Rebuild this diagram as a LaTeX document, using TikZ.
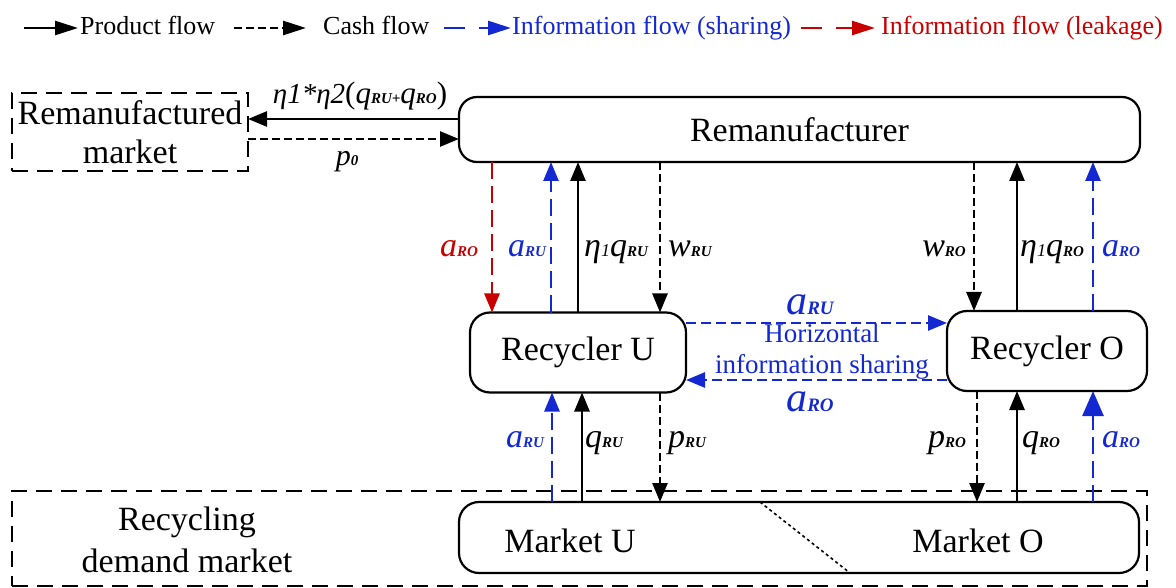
\documentclass[tikz,border=0pt]{standalone}
\usepackage{fontspec}
\setmainfont{Liberation Serif}
\usetikzlibrary{arrows.meta}
\definecolor{infoblue}{RGB}{20,40,210}
\definecolor{infored}{RGB}{200,0,0}
\newcommand{\sbx}[1]{{\fontsize{15}{15}\selectfont\bfseries\itshape #1}}
\newcommand{\sbxl}[1]{{\fontsize{19}{19}\selectfont\bfseries\itshape #1}}
\newcommand{\mv}[1]{{\fontsize{34}{34}\selectfont\itshape #1}}
\newcommand{\mvl}[1]{{\fontsize{42}{42}\selectfont\itshape #1}}
\newcommand{\one}{{\fontsize{18}{18}\selectfont\itshape 1}}
\begin{document}
\begin{tikzpicture}[x=1pt,y=-1pt,
  big/.style={font=\fontsize{34}{40}\selectfont},
  box/.style={draw, line width=2.2pt, rounded corners=18pt, inner sep=0pt, outer sep=0pt, big},
  dbox/.style={draw, line width=2.2pt, dash pattern=on 16pt off 9pt, inner sep=0pt, outer sep=0pt, align=center, big},
  prod/.style={line width=2.6pt, -{Triangle[length=19pt,width=15pt]}},
  cash/.style={prod, dash pattern=on 8pt off 4pt},
  share/.style={prod, infoblue, dash pattern=on 17pt off 7pt},
  hshare/.style={prod, infoblue, dash pattern=on 10pt off 5pt},
  leak/.style={prod, infored, dash pattern=on 17pt off 7pt},
  lbl/.style={inner sep=0pt, outer sep=0pt, anchor=base},
  leg/.style={inner sep=0pt, anchor=base west, font=\fontsize{26}{26}\selectfont},
  legtip/.style={line width=2.6pt, -{Triangle[length=23pt,width=14pt]}},
]
\useasboundingbox (0,0) rectangle (1176,588);

% legend
\coordinate (l1a) at (24,28); \coordinate (l1b) at (78,28);
\coordinate (l2a) at (234,28); \coordinate (l2b) at (306,28);
\coordinate (l3a) at (444,28); \coordinate (l3b) at (511,28);
\coordinate (l4a) at (801,28); \coordinate (l4b) at (875,28);
\draw[legtip] (l1a) -- (l1b);
\node[leg] (t1) at (80,35) {Product flow};
\draw[legtip, dash pattern=on 8pt off 4pt] (l2a) -- (l2b);
\node[leg] (t2) at (323,35) {Cash flow};
\draw[legtip, infoblue, dash pattern=on 21pt off 14pt] (l3a) -- (l3b);
\node[leg, text=infoblue] (t3) at (512,35) {Information flow (sharing)};
\draw[legtip, infored, dash pattern=on 21pt off 14pt] (l4a) -- (l4b);
\node[leg, text=infored] (t4) at (881,35) {Information flow (leakage)};

% boxes
\node[box, minimum width=681pt, minimum height=65pt] (rem) at (799.5,129.5) {Remanufacturer};
\node[dbox, minimum width=236pt, minimum height=78pt] (rmk) at (130,132) {Remanufactured\\[-1pt]market};
\node[box, rounded corners=20pt, minimum width=216pt, minimum height=80pt] (ru) at (578,352.5) {Recycler U};
\node[box, rounded corners=20pt, minimum width=200pt, minimum height=80pt] (ro) at (1047,351) {Recycler O};
\node[dbox, minimum width=1135pt, minimum height=95pt] (rdm) at (579.5,538.5) {};
\node[big, align=center, inner sep=0pt] (rdmt) at (187,540) {Recycling\\[2pt]demand market};
\node[box, rounded corners=20pt, minimum width=680pt, minimum height=71pt] (mkt) at (799,537.5) {};
\node[lbl, big] (mu) at (570,552) {Market U};
\node[lbl, big] (mo) at (978,552) {Market O};

% helper coordinates
\coordinate (xa) at (492,0);
\coordinate (xb) at (551,0);
\coordinate (xc) at (578,0);
\coordinate (xd) at (660,0);
\coordinate (xe) at (974,0);
\coordinate (xf) at (1017,0);
\coordinate (xg) at (1093,0);
\coordinate (xh) at (552,0);
\coordinate (xi) at (582,0);
\coordinate (xj) at (977,0);
\coordinate (xk) at (760,0);
\coordinate (xl) at (850,0);
\coordinate (ya) at (0,323);
\coordinate (yb) at (0,380);
\coordinate (yc) at (0,119);
\coordinate (yd) at (0,139);

% remanufactured market flows
\draw[prod] (rem.west |- yc) -- (rmk.east |- yc);
\draw[cash] (rmk.east |- yd) -- (rem.west |- yd);
\node[lbl] (lq) at (360,104) {{\fontsize{29}{29}\selectfont\itshape η1*η2}{\fontsize{31}{31}\selectfont(}{\fontsize{31}{31}\selectfont\itshape q}\sbx{RU+}{\fontsize{31}{31}\selectfont\itshape q}\sbx{RO}{\fontsize{31}{31}\selectfont)}};
\node[lbl] (lp) at (347,166) {{\fontsize{30}{30}\selectfont\itshape p}\sbx{0}};

% upper vertical flows
\draw[leak] (rem.south -| xa) -- (ru.north -| xa);
\draw[share] (ru.north -| xb) -- (rem.south -| xb);
\draw[prod] (ru.north -| xc) -- (rem.south -| xc);
\draw[cash] (rem.south -| xd) -- (ru.north -| xd);
\draw[cash] (rem.south -| xe) -- (ro.north -| xe);
\draw[prod] (ro.north -| xf) -- (rem.south -| xf);
\draw[share] (ro.north -| xg) -- (rem.south -| xg);

\node[lbl, text=infored] (l1) at (459,257) {\mv{a}\sbx{RO}};
\node[lbl, text=infoblue] (l2) at (527,257) {\mv{a}\sbx{RU}};
\node[lbl] (l3) at (616,257) {\mv{η}\one\mv{q}\sbx{RU}};
\node[lbl] (l4) at (690,257) {\mv{w}\sbx{RU}};
\node[lbl] (l5) at (944,257) {\mv{w}\sbx{RO}};
\node[lbl] (l6) at (1052,257) {\mv{η}\one\mv{q}\sbx{RO}};
\node[lbl, text=infoblue] (l7) at (1121,257) {\mv{a}\sbx{RO}};

% horizontal sharing
\draw[hshare] (ru.east |- ya) -- (ro.west |- ya);
\draw[hshare] (ro.west |- yb) -- (ru.east |- yb);
\node[lbl, text=infoblue] (h1) at (810,315) {\mvl{a}\sbxl{RU}};
\node[lbl, text=infoblue] (h2) at (810,411) {\mvl{a}\sbxl{RO}};
\node[lbl, text=infoblue, font=\fontsize{27}{27}\selectfont] (h3) at (822,342) {Horizontal};
\node[lbl, text=infoblue, font=\fontsize{27}{27}\selectfont] (h4) at (822,373) {information sharing};

% lower vertical flows
\draw[share] (mkt.north -| xh) -- (ru.south -| xh);
\draw[prod] (mkt.north -| xi) -- (ru.south -| xi);
\draw[cash] (ru.south -| xd) -- (mkt.north -| xd);
\draw[cash] (ro.south -| xj) -- (mkt.north -| xj);
\draw[prod] (mkt.north -| xf) -- (ro.south -| xf);
\draw[share, -{Triangle[length=25pt,width=21pt]}] (mkt.north -| xg) -- (ro.south -| xg);

\node[lbl, text=infoblue] (b1) at (525,447) {\mv{a}\sbx{RU}};
\node[lbl] (b2) at (604,447) {\mv{q}\sbx{RU}};
\node[lbl] (b3) at (687,447) {\mv{p}\sbx{RU}};
\node[lbl] (b4) at (947,447) {\mv{p}\sbx{RO}};
\node[lbl] (b5) at (1041,447) {\mv{q}\sbx{RO}};
\node[lbl, text=infoblue] (b6) at (1121,447) {\mv{a}\sbx{RO}};

% market divider
\draw[line width=1.6pt, dash pattern=on 3pt off 3pt] (mkt.north -| xk) -- (mkt.south -| xl);
\end{tikzpicture}
\end{document}
